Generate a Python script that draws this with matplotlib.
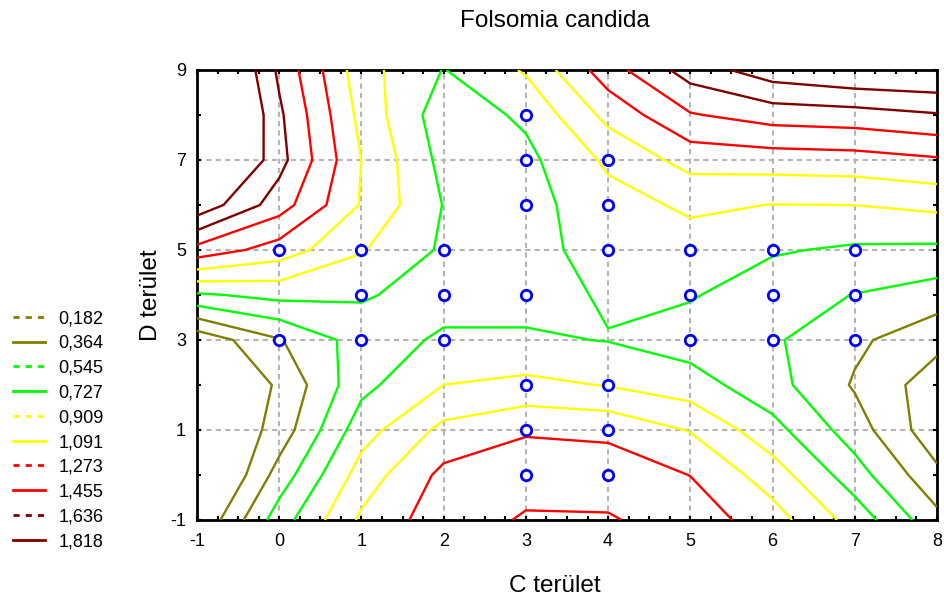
import numpy as np
import matplotlib
matplotlib.use('Agg')
import matplotlib.pyplot as plt
from matplotlib.lines import Line2D
from matplotlib.ticker import MultipleLocator, FixedLocator

plt.rcParams['font.family'] = ['Liberation Sans', 'DejaVu Sans']
plt.rcParams['axes.unicode_minus'] = False

# fitted surface, nodes at integer C / D values
gx = [-1, 0, 1, 2, 3, 4, 5, 6, 7, 8]
gy = [-1, 0, 1, 2, 3, 4, 5, 6, 7, 8, 9]
z = [
    [0.00, 0.64, 1.124, 1.38, 1.47, 1.47, 1.38, 1.17, 0.837, 0.42],   # D=-1
    [-0.20, 0.44, 0.99, 1.32, 1.40, 1.38, 1.27, 1.00, 0.627, 0.224],  # D=0
    [-0.10, 0.257, 0.831, 1.14, 1.25, 1.23, 1.08, 0.79, 0.452, 0.06], # D=1
    [-0.05, 0.205, 0.675, 0.91, 0.955, 0.90, 0.81, 0.61, 0.345, 0.08],
    [0.05, 0.35, 0.628, 0.757, 0.753, 0.72, 0.64, 0.57, 0.40, 0.238],
    [0.70, 0.78, 0.747, 0.65, 0.66, 0.747, 0.743, 0.62, 0.54, 0.457],
    [1.39, 1.19, 0.924, 0.70, 0.66, 0.806, 0.832, 0.745, 0.70, 0.69],
    [1.95, 1.54, 1.075, 0.72, 0.66, 0.84, 0.94, 0.905, 0.910, 0.953],
    [2.32, 1.70, 1.09, 0.67, 0.68, 0.943, 1.16, 1.18, 1.196, 1.25],
    [2.45, 1.67, 1.034, 0.62, 0.76, 1.146, 1.44, 1.535, 1.56, 1.62],
    [2.35, 1.60, 0.98, 0.72, 0.93, 1.375, 1.72, 1.92, 2.00, 2.02],    # D=9
]

levels = [0.182, 0.364, 0.545, 0.727, 0.909, 1.091, 1.273, 1.455, 1.636, 1.818]
level_labels = ['0,182', '0,364', '0,545', '0,727', '0,909',
                '1,091', '1,273', '1,455', '1,636', '1,818']
level_colors = ['#808000', '#808000', '#00ff00', '#00ff00', '#ffff00',
                '#ffff00', '#ff0000', '#ff0000', '#800000', '#800000']
legend_styles = ['dashed', 'solid'] * 5

# sampled sites
pts_x = [0, 1, 2, 3, 3, 4, 3, 4, 4, 5, 6, 7, 1, 2, 3, 5, 6, 7,
         0, 1, 2, 5, 6, 7, 3, 4, 3, 4, 3, 4]
pts_y = [5, 5, 5, 8, 7, 7, 6, 6, 5, 5, 5, 5, 4, 4, 4, 4, 4, 4,
         3, 3, 3, 3, 3, 3, 2, 2, 1, 1, 0, 0]

fig = plt.figure(figsize=(9.44, 5.98), dpi=100, facecolor='white')
ax = fig.add_axes([197/944, 1 - 520/598, 740/944, 450/598])

ax.contour(gx, gy, np.array(z), levels=levels, colors=level_colors,
           linewidths=1.7, linestyles='solid', zorder=3)
ax.plot(pts_x, pts_y, 'o', ms=7.5, mfc='white', mec='#0000ff', mew=2,
        ls='none', zorder=5)

ax.set_xlim(-1, 8)
ax.set_ylim(-1, 9)
ax.xaxis.set_major_locator(MultipleLocator(1))
ax.xaxis.set_minor_locator(MultipleLocator(0.25))
ax.yaxis.set_major_locator(FixedLocator([-1, 1, 3, 5, 7, 9]))
ax.yaxis.set_minor_locator(FixedLocator([0, 2, 4, 6, 8]))
ax.tick_params(which='both', direction='in', length=3, width=1.5,
               top=True, right=True, labelsize=13, colors='black')
ax.tick_params(axis='x', pad=9)
ax.tick_params(axis='y', pad=8)
ax.grid(True, which='major', color='#b4b4b4', linestyle=(0, (2.5, 2)),
        linewidth=1.5)
ax.set_axisbelow(True)
for sp in ax.spines.values():
    sp.set_linewidth(2)

fig.text(555/944, 1 - 27/598, 'Folsomia candida', ha='center',
         va='baseline', fontsize=17.5)
fig.text(555/944, 1 - 592/598, 'C terület', ha='center', va='baseline',
         fontsize=17.5)
fig.text(151/944, 1 - 295/598, 'D terület', ha='center', va='center',
         rotation=90, fontsize=17.5)

handles = []
for c, s in zip(level_colors, legend_styles):
    h = Line2D([], [], color=c, lw=2)
    if s == 'dashed':
        h.set_dashes((2.2, 2.2))
    handles.append(h)
fig.legend(handles, level_labels, loc='upper left',
           bbox_to_anchor=(6/944, 1 - 303/598), frameon=False,
           fontsize=13, handlelength=1.77, handletextpad=0.72,
           labelspacing=0.43, borderaxespad=0)

fig.savefig('out.png', dpi=100, facecolor='white')
